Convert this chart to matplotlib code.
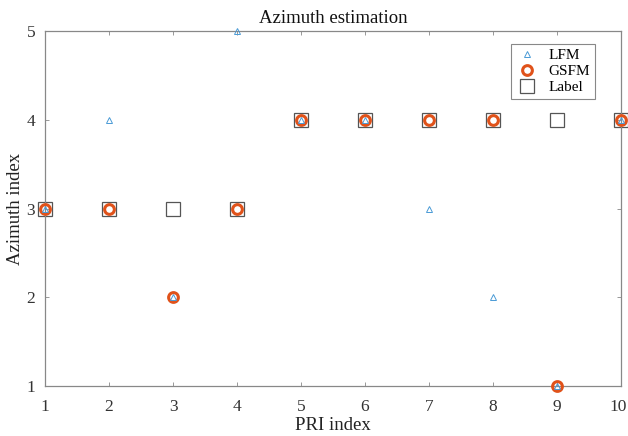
import matplotlib
matplotlib.use("Agg")
import matplotlib.pyplot as plt
from matplotlib.transforms import ScaledTranslation

pri = [1, 2, 3, 4, 5, 6, 7, 8, 9, 10]
lfm = [3, 4, 2, 5, 4, 4, 3, 2, 1, 4]
gsfm = [3, 3, 2, 3, 4, 4, 4, 4, 1, 4]
label = [3, 3, 3, 3, 4, 4, 4, 4, 4, 4]
xticks = [1, 2, 3, 4, 5, 6, 7, 8, 9, 10]
yticks = [1, 2, 3, 4, 5]

plt.rcParams['font.family'] = ['Liberation Serif', 'DejaVu Serif']
fig = plt.figure(figsize=(6.28, 4.36), dpi=100)
ax = fig.add_axes([45/628, 1-386/436, (621-45)/628, (386-31)/436])

ax.plot(pri, lfm, linestyle='none', marker='^', markersize=4.5, markerfacecolor='none',
        markeredgecolor='#4a9ad6', markeredgewidth=0.7, label='LFM', zorder=4, clip_on=False)
ax.plot(pri, gsfm, linestyle='none', marker='o', markersize=7, markerfacecolor='none',
        markeredgecolor='#E0521A', markeredgewidth=2.2, label='GSFM', zorder=3, clip_on=False)
ax.plot(pri, label, linestyle='none', marker='s', markersize=10, markerfacecolor='none',
        markeredgecolor='#555555', markeredgewidth=0.9, label='Label', zorder=2, clip_on=False)

ax.set_xlim(1, 10)
ax.set_ylim(1, 5)
ax.set_xticks(xticks)
ax.set_yticks(yticks)
ax.tick_params(direction='in', top=True, right=True, length=3, width=0.6,
               colors='#888888', labelcolor='#333333', labelsize=12.5)
ax.tick_params(axis='x', pad=9)
ax.tick_params(axis='y', pad=7)
for s in ax.spines.values():
    s.set_color('#888888')
    s.set_linewidth(0.9)
ax.set_xlabel('PRI index', fontsize=13.5, color='#222222', labelpad=2)
ax.set_ylabel('Azimuth index', fontsize=13.5, color='#222222', labelpad=2)
ax.set_title('Azimuth estimation', fontsize=13.5, color='#111111', pad=6)
leg = ax.legend(loc='upper right', bbox_to_anchor=(0.955, 0.963), borderaxespad=0, fontsize=11,
                fancybox=False, edgecolor='#888888', framealpha=1,
                handletextpad=0.6, borderpad=0.3, labelspacing=0.15, handlelength=1.6)
leg.get_frame().set_linewidth(0.8)

# keep the last x tick label inside the canvas
last = ax.get_xticklabels()[-1]
last.set_transform(last.get_transform() + ScaledTranslation(-3/100, 0, fig.dpi_scale_trans))

fig.savefig('out.png', dpi=100)
